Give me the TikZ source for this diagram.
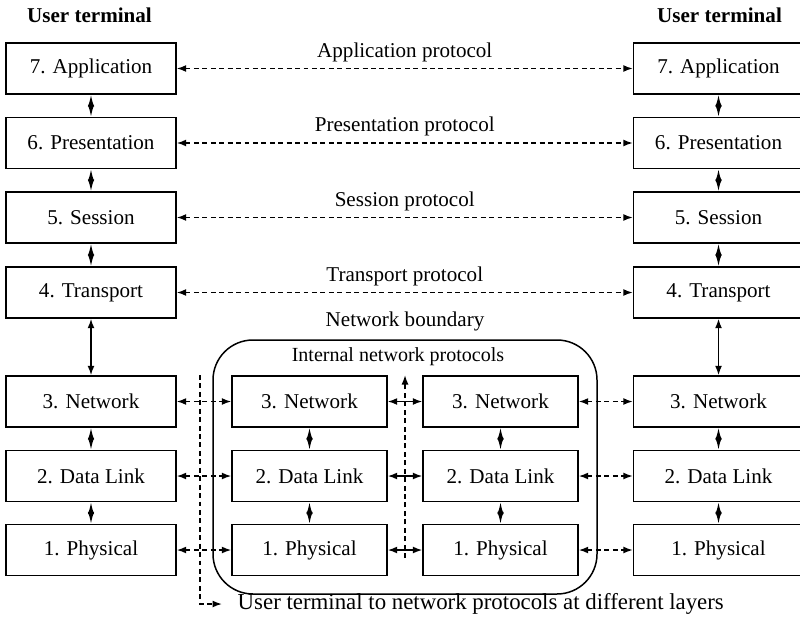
\documentclass[tikz,border=0pt]{standalone}
\usepackage{fontspec}
\setmainfont{Liberation Serif}
\usetikzlibrary{arrows.meta}

\begin{document}
\begin{tikzpicture}[x=0.02cm, y=-0.02cm, font=\fontsize{12}{14}\selectfont, line width=0.85pt,
  layer/.style={draw, minimum width=3.4cm, minimum height=1.02cm, inner sep=0pt},
  inlayer/.style={draw, minimum width=3.1cm, minimum height=1.02cm, inner sep=0pt},
  peer/.style={dash pattern=on 2.8pt off 2pt, {Latex[length=0.19cm,width=0.14cm]}-{Latex[length=0.19cm,width=0.14cm]}},
  link/.style={{Latex[length=0.19cm,width=0.14cm]}-{Latex[length=0.19cm,width=0.14cm]}},
  stack/.style={{Latex[length=0.24cm,width=0.13cm]}-{Latex[length=0.24cm,width=0.13cm]}},
  hint/.style={dash pattern=on 2.8pt off 2pt, -{Latex[length=0.19cm,width=0.14cm]}}]

\useasboundingbox (0,0) rectangle (800,628);

% user terminals
\node[font=\fontsize{12}{14}\selectfont\bfseries] (titleA) at (89.5,15) {User terminal};
\node[font=\fontsize{12}{14}\selectfont\bfseries] (titleB) at (719.5,15) {User terminal};

\node[layer] (hostA7) at (91,68.5) {7. Application};
\node[layer] (hostA6) at (91,143) {6. Presentation};
\node[layer] (hostA5) at (91,217.5) {5. Session};
\node[layer] (hostA4) at (91,292.5) {4. Transport};
\node[layer] (hostA3) at (91,401.5) {3. Network};
\node[layer] (hostA2) at (91,476) {2. Data Link};
\node[layer] (hostA1) at (91,550) {1. Physical};

\node[layer] (hostB7) at (718.5,68.5) {7. Application};
\node[layer] (hostB6) at (718.5,143) {6. Presentation};
\node[layer] (hostB5) at (718.5,217.5) {5. Session};
\node[layer] (hostB4) at (718.5,292.5) {4. Transport};
\node[layer] (hostB3) at (718.5,401.5) {3. Network};
\node[layer] (hostB2) at (718.5,476) {2. Data Link};
\node[layer] (hostB1) at (718.5,550) {1. Physical};

% network
\draw[rounded corners=0.8cm] (213,340) rectangle (597,594);
\node (bound) at (405,321) {Network boundary};
\node[font=\fontsize{11.4}{13}\selectfont] (internal) at (398,357) {Internal network protocols};

\node[inlayer] (nodeA3) at (309.5,401.5) {3. Network};
\node[inlayer] (nodeA2) at (309.5,476) {2. Data Link};
\node[inlayer] (nodeA1) at (309.5,550) {1. Physical};
\node[inlayer] (nodeB3) at (500.5,401.5) {3. Network};
\node[inlayer] (nodeB2) at (500.5,476) {2. Data Link};
\node[inlayer] (nodeB1) at (500.5,550) {1. Physical};

% peer protocols
\draw[peer] (hostA7) -- node[above] (proto7) {Application protocol} (hostB7);
\draw[peer] (hostA6) -- node[above] (proto6) {Presentation protocol} (hostB6);
\draw[peer] (hostA5) -- node[above] (proto5) {Session protocol} (hostB5);
\draw[peer] (hostA4) -- node[above] (proto4) {Transport protocol} (hostB4);

\draw[peer] (hostA3) -- (nodeA3);
\draw[peer] (hostA2) -- (nodeA2);
\draw[peer] (hostA1) -- (nodeA1);
\draw[peer] (nodeB3) -- (hostB3);
\draw[peer] (nodeB2) -- (hostB2);
\draw[peer] (nodeB1) -- (hostB1);

\draw[link] (nodeA3) -- (nodeB3);
\draw[link] (nodeA2) -- (nodeB2);
\draw[link] (nodeA1) -- (nodeB1);

% layer stacks
\draw[stack] (hostA7) -- (hostA6);
\draw[stack] (hostA6) -- (hostA5);
\draw[stack] (hostA5) -- (hostA4);
\draw[link] (hostA4) -- (hostA3);
\draw[stack] (hostA3) -- (hostA2);
\draw[stack] (hostA2) -- (hostA1);

\draw[stack] (hostB7) -- (hostB6);
\draw[stack] (hostB6) -- (hostB5);
\draw[stack] (hostB5) -- (hostB4);
\draw[link] (hostB4) -- (hostB3);
\draw[stack] (hostB3) -- (hostB2);
\draw[stack] (hostB2) -- (hostB1);

\draw[stack] (nodeA3) -- (nodeA2);
\draw[stack] (nodeA2) -- (nodeA1);
\draw[stack] (nodeB3) -- (nodeB2);
\draw[stack] (nodeB2) -- (nodeB1);

% internal and access markers
\coordinate (inBot) at (405,558);
\coordinate (inTop) at (405,375);
\draw[hint] (inBot) -- (inTop);

\coordinate (accTop) at (200,375);
\node[anchor=west, inner xsep=0.3cm, font=\fontsize{13}{15}\selectfont] (legend) at (222,604) {User terminal to network protocols at different layers};
\draw[hint] (accTop) |- (legend.west);

\end{tikzpicture}
\end{document}
